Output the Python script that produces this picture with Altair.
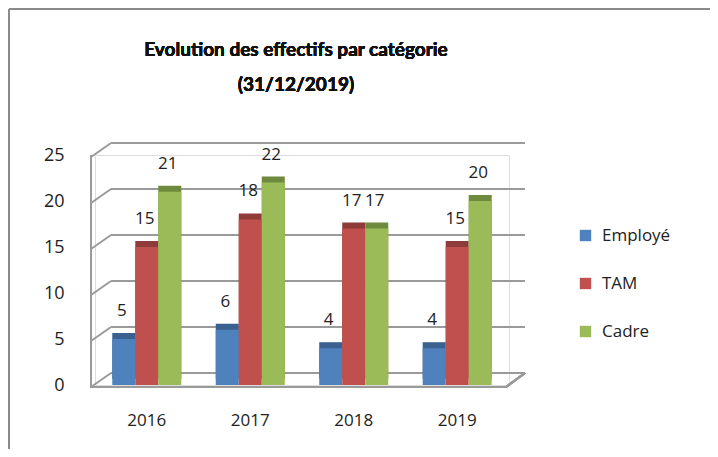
import altair as alt
import pandas as pd

years = ["2016", "2017", "2018", "2019"]
categories = ["Employé", "TAM", "Cadre"]
employe = [5, 6, 4, 4]
tam = [15, 18, 17, 15]
cadre = [21, 22, 17, 20]
grid_values = [0, 5, 10, 15, 20, 25]
title_lines = ["Evolution des effectifs par catégorie", "(31/12/2019)"]

front_colors = ["#4F81BD", "#C0504D", "#9BBB59"]
side_colors = ["#3A6190", "#8E3B39", "#6E8A3C"]

rows = []
for i, y in enumerate(years):
    for cat, vals in zip(categories, [employe, tam, cadre]):
        rows.append({"Année": y, "Catégorie": cat, "Effectif": vals[i]})
df = pd.DataFrame(rows)
grid_df = pd.DataFrame({"Effectif": grid_values})

FONT = "Open Sans"

x_enc = alt.X("Année:N", sort=years,
              scale=alt.Scale(paddingInner=0.333, paddingOuter=0.167),
              axis=alt.Axis(title=None, labelAngle=0, domain=False, ticks=False,
                            labelFontSize=17, labelFont=FONT, labelColor="#222",
                            labelPadding=27))
y_axis = alt.Axis(title=None, values=grid_values, grid=False, domain=False,
                  ticks=False, labelFontSize=18, labelFont=FONT,
                  labelColor="#222", labelPadding=31)
y_scale = alt.Scale(domain=[0, 25], nice=False)
y_enc = alt.Y("Effectif:Q", scale=y_scale, axis=y_axis)
xo = alt.XOffset("Catégorie:N", sort=categories)

grid_color = "#9a9a9a"

back_grid = alt.Chart(grid_df).mark_rule(color=grid_color, strokeWidth=2, yOffset=-12).encode(
    y=y_enc, x=alt.value(16), x2=alt.value(430))
diag = alt.Chart(grid_df).mark_rule(color=grid_color, strokeWidth=2, yOffset=2, y2Offset=-12).encode(
    y=y_enc, y2=alt.Y2("Effectif:Q"),
    x=alt.value(-4), x2=alt.value(16))
front_axis = alt.Chart(grid_df).mark_rule(color=grid_color, strokeWidth=2).encode(
    x=alt.value(-4), y=alt.value(0), y2=alt.value(233))
floor_front = alt.Chart(grid_df).mark_rule(color=grid_color, strokeWidth=2).encode(
    x=alt.value(-4), x2=alt.value(411), y=alt.value(232))
floor_right = alt.Chart(grid_df).mark_rule(color=grid_color, strokeWidth=2).encode(
    x=alt.value(411), x2=alt.value(430), y=alt.value(232), y2=alt.value(218))

side = alt.Chart(df).mark_bar(xOffset=6, x2Offset=6, yOffset=-6, y2Offset=-6).encode(
    x=x_enc, xOffset=xo, y=y_enc,
    color=alt.Color("Catégorie:N", sort=categories,
                    scale=alt.Scale(domain=categories, range=side_colors), legend=None))

front = alt.Chart(df).mark_bar().encode(
    x=x_enc, xOffset=xo, y=y_enc,
    color=alt.Color("Catégorie:N", sort=categories,
                    scale=alt.Scale(domain=categories, range=front_colors),
                    legend=alt.Legend(title=None, orient="none", legendX=482, legendY=72,
                                      symbolType="square", symbolSize=130,
                                      symbolStrokeWidth=0,
                                      labelFontSize=17, labelFont=FONT, labelColor="#222",
                                      rowPadding=30, labelOffset=8)))

labels = alt.Chart(df).mark_text(baseline="bottom", dy=-19, dx=-2, fontSize=17,
                                 font=FONT, color="#222").encode(
    x=x_enc, xOffset=xo, y=y_enc, text="Effectif:Q")

title1 = alt.Chart(grid_df).mark_text(text=title_lines[0], font="Lato", fontSize=19,
                                      fontWeight="bold", color="#111",
                                      align="center", baseline="middle").encode(
    x=alt.value(201), y=alt.value(-105))
title2 = alt.Chart(grid_df).mark_text(text=title_lines[1], font="Lato", fontSize=19,
                                      fontWeight="bold", color="#111",
                                      align="center", baseline="middle").encode(
    x=alt.value(201), y=alt.value(-70))

border_top = alt.Chart(grid_df).mark_rule(color="#8a8a8a", strokeWidth=2).encode(
    x=alt.value(-86), x2=alt.value(625), y=alt.value(-146))
border_left = alt.Chart(grid_df).mark_rule(color="#8a8a8a", strokeWidth=2).encode(
    x=alt.value(-86), y=alt.value(-146), y2=alt.value(305))

chart = alt.layer(
    border_top, border_left, title1, title2, back_grid, diag, front_axis, floor_front,
    floor_right, side, front, labels
).resolve_scale(color="independent").properties(
    width=414, height=230,
    autosize=alt.AutoSizeParams(type="none"),
    padding={"left": 87, "top": 147, "right": 201, "bottom": 64},
).configure_view(stroke=None).configure(background="white")

chart.save("out.html", embed_options={"renderer": "svg", "actions": False})
